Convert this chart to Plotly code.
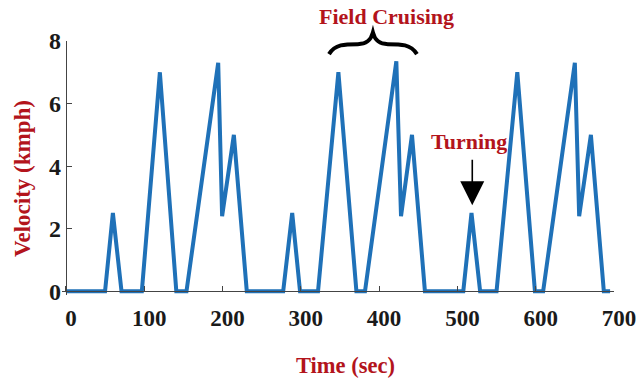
import plotly.graph_objects as go

# Velocity profile (time in sec, velocity in kmph)
time_s = [0, 50, 60, 71, 97, 120, 141, 154, 194.5, 199.5, 214.5, 231,
          277.5, 289, 299, 322, 348, 371, 382, 422, 428, 442, 458.5,
          507.5, 518, 529, 550, 576.5, 599, 609.5, 650, 655.5, 670.5, 687, 695]
velocity = [0, 0, 2.5, 0, 0, 7.0, 0, 0, 7.3, 2.4, 5.0, 0,
            0, 2.5, 0, 0, 7.0, 0, 0, 7.35, 2.4, 5.0, 0,
            0, 2.5, 0, 0, 7.0, 0, 0, 7.3, 2.4, 5.0, 0, 0]

x_ticks = [0, 100, 200, 300, 400, 500, 600, 700]
y_ticks = [0, 2, 4, 6, 8]

x_title = "Time (sec)"
y_title = "Velocity (kmph)"
cruise_label = "Field Cruising"
turn_label = "Turning"
turn_time = 518
turn_peak = 2.5

XR = [-5, 700]
YR = [-0.12, 8]

RED = "#b3141c"
BLUE = "#1f71b8"
FONT = "Times New Roman, Liberation Serif, serif"


def px(t):
    return (t - XR[0]) / (XR[1] - XR[0])


def py(v):
    return (v - YR[0]) / (YR[1] - YR[0])


# curly brace (decoration) defined in data units, drawn in paper coords
brace_pts = [
    ("M", [(336, 7.58)]),
    ("C", [(343.6, 7.9), (356.3, 7.9), (372.9, 7.9)]),
    ("C", [(384.4, 7.9), (389.5, 8.03), (392.1, 8.27)]),
    ("C", [(394.6, 8.03), (399.7, 7.9), (411.2, 7.9)]),
    ("C", [(427.8, 7.9), (440.6, 7.9), (448.3, 7.58)]),
]
brace_path = " ".join(
    cmd + " " + " ".join(f"{px(t):.5f},{py(v):.5f}" for t, v in pts)
    for cmd, pts in brace_pts
)

fig = go.Figure()
fig.add_trace(go.Scatter(
    x=time_s, y=velocity, mode="lines",
    line=dict(color=BLUE, width=4),
    hoverinfo="skip", showlegend=False,
))

fig.add_shape(type="path", xref="paper", yref="paper", path=brace_path,
              line=dict(color="black", width=4))

fig.add_annotation(x=px(409), y=1.0385, xref="paper", yref="paper",
                   text=f"<b>{cruise_label}</b>", showarrow=False,
                   yanchor="bottom",
                   font=dict(family=FONT, size=22, color=RED))
fig.add_annotation(x=turn_time + 1, y=turn_peak + 0.25, xref="x", yref="y",
                   text="", showarrow=True, ax=0, ay=-47,
                   arrowhead=2, arrowsize=3, arrowwidth=1.6,
                   arrowcolor="black")
fig.add_annotation(x=turn_time - 3, y=4.8, xref="x", yref="y",
                   text=f"<b>{turn_label}</b>", showarrow=False,
                   font=dict(family=FONT, size=22, color=RED))

# axis titles
fig.add_annotation(x=0.5127, y=-0.2795, xref="paper", yref="paper",
                   text=f"<b>{x_title}</b>", showarrow=False,
                   xanchor="center", yanchor="middle",
                   font=dict(family=FONT, size=22.5, color=RED))
fig.add_annotation(x=-0.0725, y=0.4606, xref="paper", yref="paper",
                   text=f"<b>{y_title}</b>", showarrow=False, textangle=-90,
                   xanchor="center", yanchor="middle",
                   font=dict(family=FONT, size=23, color=RED))

fig.update_layout(
    width=636, height=381,
    margin=dict(l=62, r=22, t=41, b=86, autoexpand=False),
    paper_bgcolor="white", plot_bgcolor="white",
    font=dict(family=FONT, color="#1a1a1a"),
    xaxis=dict(
        range=XR, tickvals=x_ticks, ticktext=[f"<b>{v}</b>" for v in x_ticks],
        showgrid=False, zeroline=False, showline=True, linecolor="#444",
        linewidth=1, ticks="inside", ticklen=5, tickcolor="#444",
        anchor="free", position=py(0), ticklabelstandoff=6,
        ticklabelshift=5, ticklabeloverflow="allow", automargin=False,
        tickfont=dict(family=FONT, size=23, color="#1a1a1a"),
    ),
    yaxis=dict(
        range=YR, tickvals=y_ticks, ticktext=[f"<b>{v}</b>" for v in y_ticks],
        showgrid=False, zeroline=False, showline=True, linecolor="#444",
        linewidth=1, ticks="inside", ticklen=5, tickcolor="#444",
        anchor="free", position=px(0), ticklabelstandoff=0,
        ticklabeloverflow="allow", automargin=False,
        tickfont=dict(family=FONT, size=24, color="#1a1a1a"),
    ),
)

fig.write_html("out.html")
